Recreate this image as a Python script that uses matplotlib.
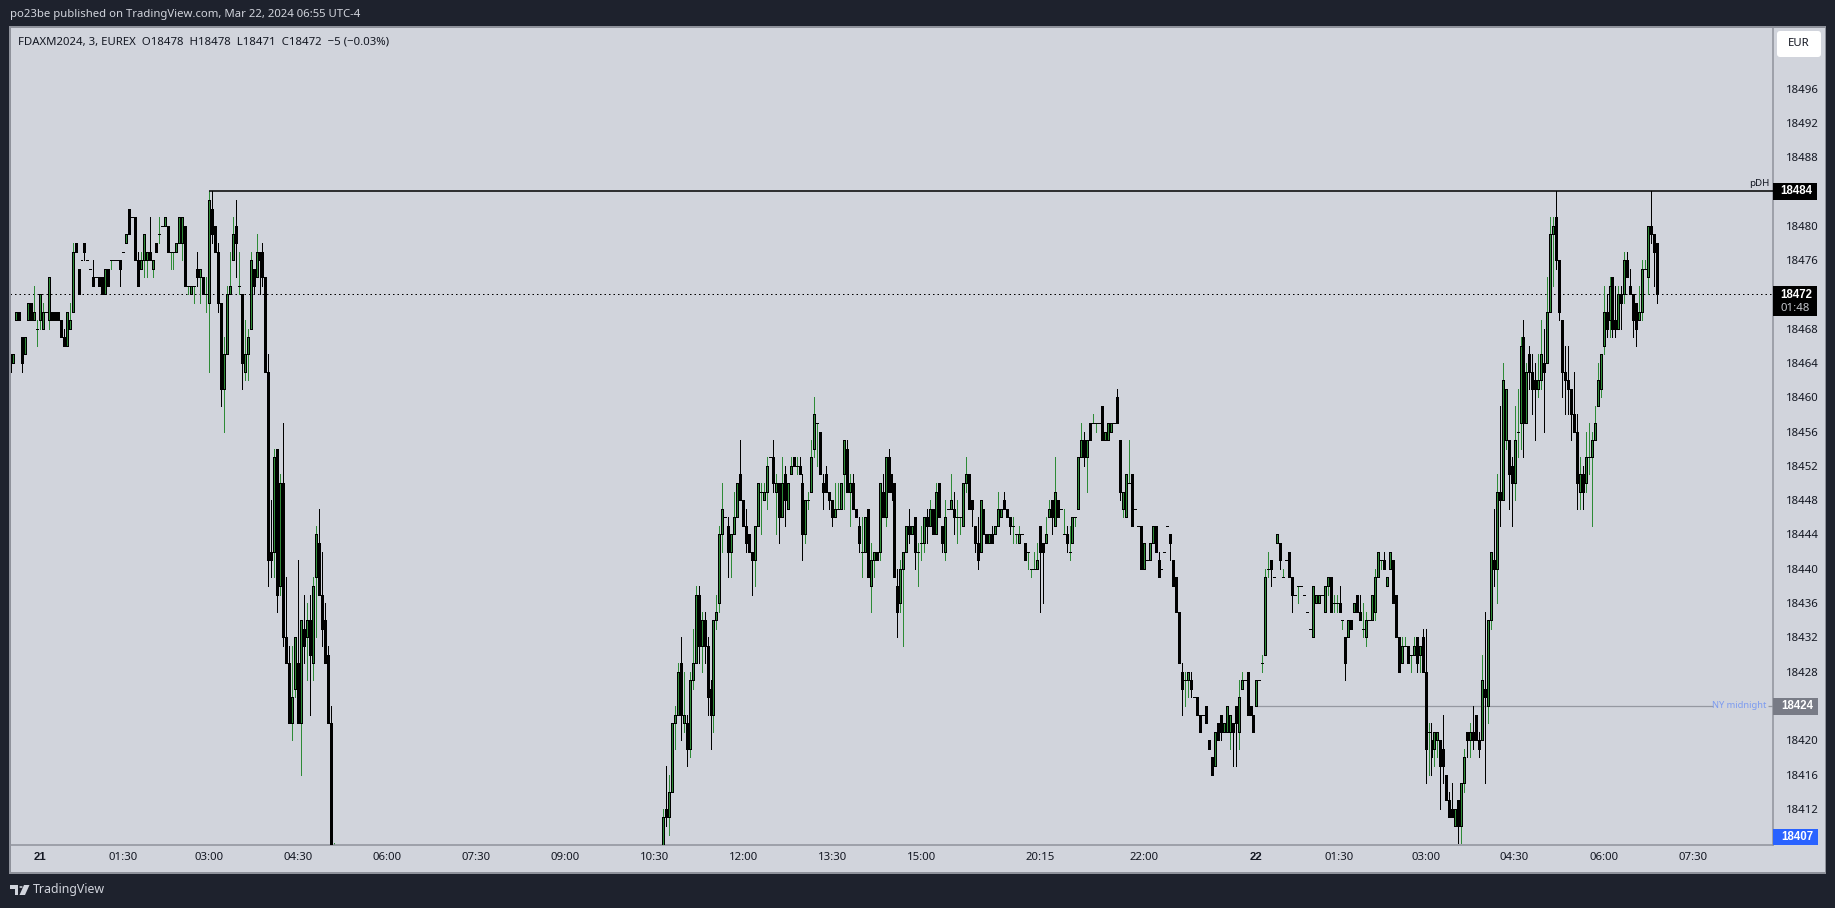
import numpy as np
import matplotlib
matplotlib.use("Agg")
import matplotlib.pyplot as plt
from matplotlib.patches import Rectangle, FancyBboxPatch, Polygon, Circle
from matplotlib.transforms import IdentityTransform

W, H = 1835, 908
BASE = 18400

# 3 minute candles, prices are BASE + value. Session before the drop below the chart
left_open = [63,64,69,70,67,65,69,71,69,68, 69,68,70,69,70,70,70,69,67,66,
             68,70,78,75,76,78,76,75,74,74, 74,74,72,75,76,76,76,76,77,78,
             82,81,81,76,75,76,76,77,75,78, 79,80,80,80,77,77,77,78,78,80,
             73,72,73,75,74,74,72,71,82,80, 77,71,61,65,72,76,80,73,72,63,
             65,68,75,74,77,77,74,63,42,42, 54,38,50,32,29,22,26,29,22,33,
             32,34,29,39,43,37,34,30,22,4]
left_close = [65,65,70,69,64,67,71,69,70,68, 72,70,70,74,69,69,69,67,66,70,
              69,77,77,72,76,77,76,75,73,74, 73,72,75,73,76,76,76,75,77,79,
              79,81,76,73,76,79,77,76,76,77, 79,80,81,77,77,77,78,81,81,73,
              73,73,73,74,75,72,72,83,79,77, 71,61,65,72,73,79,78,73,64,65,
              67,76,73,77,76,74,63,41,41,53, 37,50,32,29,22,25,32,22,34,31,
              34,30,38,44,37,33,29,22,5,4]
left_high = [65,65,70,70,67,67,71,71,73,69, 72,71,70,74,70,70,70,69,68,70,
             71,78,78,75,76,78,76,75,76,74, 74,74,75,75,76,76,76,76,77,79,
             82,81,81,77,77,79,77,81,76,78, 81,80,81,80,77,77,78,81,81,80,
             73,73,73,77,75,74,74,84,84,80, 78,71,67,73,77,81,83,77,72,69,
             68,77,75,79,77,78,74,65,48,54, 54,51,57,39,31,31,32,41,34,37,
             36,37,39,45,47,42,36,31,24,8]
left_low = [63,64,69,69,63,65,69,69,69,66, 68,68,70,68,69,69,69,67,66,66,
            68,70,77,72,76,76,76,75,73,74, 73,72,72,73,75,76,76,73,77,78,
            79,81,76,73,75,74,74,76,74,77, 78,80,80,77,75,75,77,78,76,73,
            72,72,71,73,71,72,70,63,78,77, 70,59,56,65,72,76,74,72,61,62,
            62,68,72,74,72,73,63,38,39,39, 35,37,31,29,22,20,25,22,16,29,
            27,23,27,32,37,31,29,22,5,4]

# session after it, comes back into the chart at 10:30
right_open = [7,12,11,14,22,23,29,22,22,19, 27,29,37,31,34,31,26,23,34,36,
              44,46,45,42,44,46,51,48,45,44, 42,41,45,49,48,49,53,53,49,50,
              46,51,47,51,53,52,52,50,44,48, 49,54,57,56,50,51,49,48,46,47,
              47,51,54,49,50,47,45,42,42,47, 38,41,42,42,49,46,53,51,50,38,
              36,40,42,45,44,46,42,43,43,46, 45,47,44,50,45,42,47,47,47,46,
              46,45,50,51,48,45,43,42,47,44, 43,44,44,45,46,48,47,46,45,44,
              43,44,43,42,40,40,40,45,43,43, 46,48,45,48,47,44,44,42,43,46,
              47,53,55,53,57,57,57,57,59,55, 55,56,57,60,55,47,46,50,51,47,
              45,45,40,41,41,43,45,41,40,42, 45,44,41,39,35,28,27,27,27,25,
              25,23,23,24,20,18,17,22,23,21, 21,21,22,24,21,26,27,28,24,23,
              24,27,29,30,40,41,39,43,43,39, 41,42,39,37,38,38,37,35,33,32,
              36,36,37,35,38,39,36,36,36,34, 32,32,34,35,37,35,33,32,34,34,
              35,39,41,41,38,40,41,37,32,29, 31,31,30,30,32,30,32,28,21,20,
              19,20,20,19,16,13,12,10,13,10, 15,21,20,21,23,20,20,26,24,34,
              41,40,49,48,55,55,52,50,56,57, 67,57,65,63,62,61,62,64,64,70,
              79,81,76,69,63,62,61,58,56,49, 51,50,53,53,55,59,61,66,70,69,
              74,69,68,72,72,76,73,72,71,69, 70,75,74,80,79,78]
right_close = [11,11,14,22,23,28,23,23,19,27, 29,37,31,34,31,25,23,34,35,44,
               47,46,42,44,46,50,48,45,43,42, 41,45,50,49,49,52,53,50,50,46,
               50,48,50,52,52,52,51,44,48,48, 53,58,57,51,49,49,48,46,47,47,
               50,55,49,50,47,46,43,42,46,39, 41,42,41,50,46,53,49,49,39,35,
               40,42,45,44,45,42,42,43,46,45, 47,44,49,46,43,46,47,48,46,46,
               46,50,51,47,47,43,41,48,44,43, 44,43,45,47,47,47,46,45,45,44,
               44,44,41,42,40,40,41,42,42,44, 47,46,49,46,47,44,43,42,46,46,
               53,55,53,55,55,57,57,57,55,56, 57,57,57,57,49,49,51,50,45,47,
               45,40,43,41,43,45,42,39,40,42, 45,43,38,35,29,26,27,28,26,25,
               23,21,23,22,19,16,21,20,21,22, 24,23,21,22,25,27,27,23,23,21,
               27,27,29,39,40,40,39,44,41,39, 41,39,37,37,38,38,37,35,33,38,
               37,37,37,38,39,35,36,36,35,34, 29,34,33,36,35,34,33,34,34,37,
               39,42,41,40,39,42,36,32,28,31, 31,29,30,31,29,31,28,19,21,18,
               21,21,17,17,13,11,11,12,10,15, 18,20,21,20,20,19,27,25,34,42,
               40,49,48,62,61,51,50,55,56,66, 57,63,63,61,61,62,65,63,70,79,
               80,76,70,63,62,61,58,56,50,51, 49,53,53,55,57,62,65,70,68,73,
               68,68,72,71,76,74,72,69,68,70, 75,75,80,79,77,72]
right_high = [12,17,16,22,24,29,32,28,23,28, 33,38,38,35,35,32,27,34,37,45,
              50,46,46,44,49,50,55,48,47,44, 42,45,50,50,50,53,53,55,51,50,
              53,52,50,53,53,53,53,51,48,49, 55,60,57,56,51,52,49,48,50,50,
              50,55,55,51,51,47,46,46,46,47, 43,42,42,50,51,53,54,51,50,40,
              41,42,45,47,45,46,43,45,46,47, 48,47,50,50,45,48,47,51,49,48,
              46,50,53,51,48,45,46,48,47,44, 44,45,45,49,47,49,47,46,46,44,
              45,44,43,42,40,42,43,45,43,46, 48,48,53,48,47,47,45,45,46,46,
              53,57,56,55,57,58,57,57,59,56, 57,57,57,61,55,49,51,55,51,47,
              45,45,43,41,43,45,45,42,40,42, 45,44,41,39,35,29,28,28,28,25,
              25,23,23,24,20,18,21,22,23,22, 24,23,22,24,27,28,27,28,24,23,
              27,27,30,40,42,41,39,44,43,40, 41,42,39,37,38,38,37,35,33,38,
              37,37,37,38,39,39,37,37,38,34, 32,34,34,36,37,37,36,35,34,37,
              40,42,41,42,39,42,41,37,32,32, 32,31,30,32,32,31,33,33,22,22,
              21,21,20,23,16,14,15,12,13,15, 19,21,22,24,23,21,30,35,34,42,
              47,51,59,64,61,55,53,59,61,67, 69,64,66,65,64,65,69,68,74,81,
              81,84,76,69,66,66,61,63,58,53, 52,56,57,56,59,64,65,73,72,74,
              74,73,73,73,77,77,75,72,71,73, 76,76,80,84,79,78]
right_low = [6,10,9,14,19,23,20,21,17,18, 26,29,29,28,29,23,19,21,33,35,
             42,46,39,39,44,46,48,45,42,42, 37,38,45,44,48,47,53,49,44,43,
             46,45,47,51,52,51,51,41,43,47, 49,53,52,51,47,49,47,45,46,47,
             47,47,49,45,47,46,42,39,42,39, 35,39,41,41,46,45,49,48,39,32,
             35,31,42,43,44,40,38,41,42,43, 45,44,44,46,42,41,47,47,44,43,
             44,45,49,47,45,42,40,42,44,43, 43,43,44,45,46,47,46,44,43,43,
             43,44,41,40,39,40,40,35,36,43, 46,44,45,46,47,44,42,41,43,45,
             47,53,52,49,55,57,56,57,55,55, 55,56,57,57,48,46,46,50,45,47,
             45,40,40,41,41,43,42,39,40,42, 45,41,38,35,29,23,24,25,25,25,
             23,21,23,22,19,16,17,20,20,21, 21,19,17,17,19,26,27,23,23,21,
             24,27,28,30,39,38,39,43,40,39, 41,39,35,37,36,38,37,35,33,32,
             36,36,37,35,37,35,35,35,35,33, 27,32,33,35,35,34,32,31,34,34,
             34,39,40,40,38,40,36,32,28,29, 31,29,28,30,28,28,28,15,16,16,
             17,18,12,15,13,11,11,10,8,8, 14,18,18,19,20,18,20,15,22,33,
             38,36,45,48,54,47,45,48,53,54, 53,57,61,58,55,60,61,56,64,70,
             73,75,69,60,58,58,55,56,47,47, 47,49,51,45,55,59,60,65,67,67,
             67,67,68,68,71,74,72,67,66,69, 69,75,72,78,73,71]

LEFT_START = 0
RIGHT_START = 220

time_ticks = [10, 38, 67, 97, 127, 157, 187, 217, 247, 277, 307, 347, 382, 420, 448, 477, 507, 537, 567]
time_labels = ["21", "01:30", "03:00", "04:30", "06:00", "07:30", "09:00", "10:30", "12:00", "13:30",
               "15:00", "20:15", "22:00", "22", "01:30", "03:00", "04:30", "06:00", "07:30"]
bold_times = ["21", "22"]
price_ticks = [18496, 18492, 18488, 18480, 18476, 18468, 18464, 18460, 18456, 18452, 18448, 18444,
               18440, 18436, 18432, 18428, 18420, 18416, 18412]

PDH = 18484
PDH_START = 67
LAST = 18472
NY_MID = 18424
NY_START = 420
LOW_LABEL = 18407

BG = "#1e222d"
PANEL = "#d1d4dc"
GREEN = "#2e8b37"
EDGE = "#8f929b"
FONT = ["Noto Sans", "DejaVu Sans"]
BOLD = "Liberation Sans"
ONE_PX = 0.72

plt.rcParams["font.family"] = FONT

# pixel helpers, the screenshot is laid out in pixels from the top left
def fx(x):
    return x / W

def fy(y):
    return 1 - y / H

def label(x, y, s, **kw):
    kw.setdefault("color", "#131722")
    kw.setdefault("fontsize", 8.2)
    kw.setdefault("va", "center")
    fig.text(fx(x), fy(y), s, **kw)

def box(x0, y0, x1, y1, color, zorder=5):
    fig.add_artist(Rectangle((fx(x0), fy(y1)), (x1 - x0) / W, (y1 - y0) / H, transform=fig.transFigure,
                             facecolor=color, edgecolor="none", zorder=zorder))

fig = plt.figure(figsize=(W / 100, H / 100), dpi=100, facecolor=BG)

# chart frame with price scale and time scale
box(10, 27, 1825, 872, PANEL, zorder=0)
box(9, 27, 10.5, 872, EDGE, zorder=1)
box(9, 26, 1826, 27.5, EDGE, zorder=1)
box(1825, 27, 1826, 873, EDGE, zorder=1)
box(9, 872, 1826, 873.5, EDGE, zorder=1)

ax = fig.add_axes([fx(10), fy(845), (1773 - 10) / W, (845 - 27) / H], facecolor=PANEL)
ax.set_xlim(-0.1, 594.1)
ax.set_ylim(18407.79, 18503.18)
for s in ["top", "left"]:
    ax.spines[s].set_visible(False)
for s in ["right", "bottom"]:
    ax.spines[s].set_color(EDGE)
    ax.spines[s].set_linewidth(1.1)


def candles(start, o, h, l, c):
    o, h, l, c = [np.array(v) + BASE for v in (o, h, l, c)]
    xs = start + np.arange(len(o))
    up = c > o
    # a candle with no body takes the wick colour of an up bar when it has a wick
    wick_green = up | ((c == o) & ((h > o) | (l < o)))
    ax.vlines(xs[wick_green], l[wick_green], h[wick_green], color=GREEN, lw=ONE_PX, antialiased=False, zorder=2)
    ax.vlines(xs[~wick_green], l[~wick_green], h[~wick_green], color="black", lw=ONE_PX, antialiased=False, zorder=2)
    ax.bar(xs[up], (c - o)[up], bottom=o[up], width=0.67, facecolor=GREEN, edgecolor="black", lw=ONE_PX,
           antialiased=False, zorder=3)
    ax.bar(xs[~up], (o - c)[~up], bottom=c[~up], width=0.67, facecolor="black", edgecolor="black", lw=ONE_PX,
           antialiased=False, zorder=3)


candles(LEFT_START, left_open, left_high, left_low, left_close)
candles(RIGHT_START, right_open, right_high, right_low, right_close)

ax.hlines(PDH, PDH_START, 594.1, color="black", lw=1.1, zorder=4)
ax.axhline(LAST, color="black", lw=ONE_PX, ls=(0, (1.5, 3)), zorder=1)
ax.hlines(NY_MID, NY_START, 574, color="#9598a1", lw=0.9, zorder=1)
ax.hlines(NY_MID, 592.5, 594.1, color="#9598a1", lw=0.9, zorder=1)

ax.set_xticks(time_ticks)
ax.set_xticklabels(time_labels, fontsize=8.2, color="#131722")
for t in ax.get_xticklabels():
    if t.get_text() in bold_times:
        t.set_family(BOLD)
        t.set_fontweight("bold")
ax.tick_params(axis="x", length=0, pad=5)
ax.yaxis.tick_right()
ax.set_yticks(price_ticks)
ax.set_yticklabels([str(p) for p in price_ticks], fontsize=8.2, color="#131722")
ax.tick_params(axis="y", length=0, pad=9)

# price tags on the scale
box(1773, 183, 1817, 200, "black")
label(1780, 191.5, str(PDH), color="white", fontweight="bold", family=BOLD, fontsize=8.3, zorder=6)
box(1773, 286, 1817, 316, "black")
label(1780, 294.5, str(LAST), color="white", fontweight="bold", family=BOLD, fontsize=8.3, zorder=6)
label(1780, 308.5, "01:48", color="#c4c6cc", zorder=6)
box(1773, 698, 1818, 715, "#787b86")
label(1781, 706, str(NY_MID), color="white", fontweight="bold", family=BOLD, fontsize=8.3, zorder=6)
box(1773, 829, 1818, 845, "#2962ff")
label(1781, 837.5, str(LOW_LABEL), color="white", fontweight="bold", family=BOLD, fontsize=8.3, zorder=6)

eur = FancyBboxPatch((1780, H - 54), 38, 20, boxstyle="round,pad=3,rounding_size=3", transform=IdentityTransform(),
                     facecolor="white", edgecolor="none", zorder=5)
fig.add_artist(eur)
label(1799, 44, "EUR", ha="center", zorder=6)

label(1749, 183, "pDH", fontsize=7)
label(1712, 706, "NY midnight", fontsize=6.7, color="#7d9cf0")

label(10, 15, "po23be published on TradingView.com, Mar 22, 2024 06:55 UTC-4", color="#d1d4dc", fontsize=8.15)
label(18, 42, "FDAXM2024, 3, EUREX  O18478  H18478  L18471  C18472  \u22125 (\u22120.03%)", fontsize=8.2)

# footer logo
logo = "#d1d4dc"
box(10, 885, 18, 888.5, logo)
box(14.5, 885, 18, 895, logo)
fig.add_artist(Circle((fx(21), fy(887)), 1.7 / W, transform=fig.transFigure, facecolor=logo, edgecolor="none"))
fig.add_artist(Polygon([(fx(24), fy(885)), (fx(29.5), fy(885)), (fx(25), fy(895)), (fx(19.5), fy(895))],
                       transform=fig.transFigure, facecolor=logo, edgecolor="none"))
label(33, 890, "TradingView", color="#d1d4dc", fontsize=8.9)

fig.savefig("out.png", dpi=100, facecolor=BG)
